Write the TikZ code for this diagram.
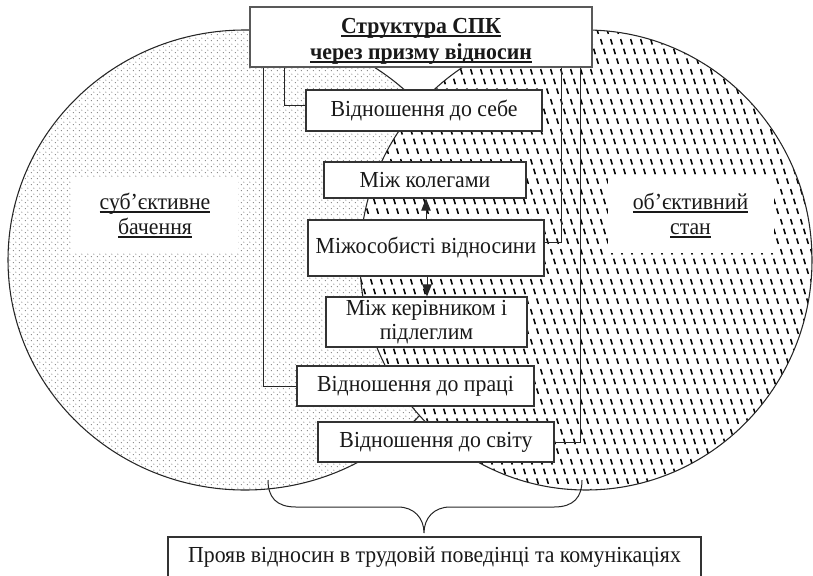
\documentclass[tikz,border=0pt]{standalone}
\usepackage{fontspec}
\setmainfont{Liberation Serif}[FakeStretch=0.95]
\usetikzlibrary{arrows.meta,patterns}

\pgfdeclarepatternformonly{sparsedots}{\pgfqpoint{0pt}{0pt}}{\pgfqpoint{4.5pt}{4.5pt}}{\pgfqpoint{4.5pt}{4.5pt}}{%
  \pgfpathcircle{\pgfqpoint{1.1pt}{1.1pt}}{0.44pt}%
  \pgfpathcircle{\pgfqpoint{3.35pt}{3.35pt}}{0.44pt}%
  \pgfusepath{fill}}

\pgfdeclarepatternformonly{slantdash}{\pgfqpoint{0pt}{0pt}}{\pgfqpoint{7.5pt}{22.5pt}}{\pgfqpoint{7.5pt}{22.5pt}}{%
  \pgfsetlinewidth{1.25pt}%
  \pgfpathmoveto{\pgfqpoint{0.5pt}{20.9pt}}\pgfpathlineto{\pgfqpoint{1.9pt}{16.6pt}}%
  \pgfpathmoveto{\pgfqpoint{3.0pt}{13.4pt}}\pgfpathlineto{\pgfqpoint{4.4pt}{9.1pt}}%
  \pgfpathmoveto{\pgfqpoint{5.5pt}{5.9pt}}\pgfpathlineto{\pgfqpoint{6.9pt}{1.6pt}}%
  \pgfusepath{stroke}}

\newsavebox\ulbox
\newcommand\ulx[1]{\sbox\ulbox{#1}\rlap{\rule[-2.6pt]{\wd\ulbox}{1.3pt}}\usebox\ulbox}

\begin{document}
\begin{tikzpicture}[x=0.75pt,y=-0.75pt,
  txt/.style={font=\fontsize{17.2}{18}\selectfont, text=black!90},
  box/.style={txt, draw=black!80, line width=0.8pt, fill=white, align=center, inner sep=0pt},
  conn/.style={draw=black!85, line width=0.75pt},
  arr/.style={conn, -{Triangle[length=9pt,width=7pt]}},
  circ/.style={draw=black!85, line width=0.8pt},
  lab/.style={txt, fill=white, align=center, inner sep=0pt, minimum width=124.5pt, minimum height=56.25pt, font=\fontsize{17.2}{18.75}\selectfont}]
\useasboundingbox (0,0) rectangle (813,575);

% left circle (dotted)
\fill[white] (245,260) ellipse [x radius=237, y radius=230];
\draw[circ, pattern=sparsedots, pattern color=black!60] (245,260) ellipse [x radius=237, y radius=230];
% right circle (dashes)
\fill[white] (586,260) ellipse [x radius=226, y radius=230];
\draw[circ, pattern=slantdash, pattern color=black] (586,260) ellipse [x radius=226, y radius=230];

% circle labels
\node[lab] (subj) at (155,215.5) {\ulx{суб’єктивне}\\\ulx{бачення}};
\node[lab] (obj) at (690.5,215.5) {\ulx{об’єктивний}\\\ulx{стан}};

% title box and text
\node[box, line width=1.1pt, draw=black!65, minimum width=256.5pt, minimum height=45pt] (title) at (421,37) {};
\node[txt, align=center, inner sep=0pt, font=\fontsize{17.2}{19.5}\selectfont\bfseries] (titletext) at (421,41)
      {\ulx{Структура СПК}\\\ulx{через призму відносин}};

% boxes
\node[box, minimum width=177pt, minimum height=30.75pt] (b1) at (424,110.5) {Відношення до себе};
\node[box, minimum width=151.5pt, minimum height=27pt] (b2) at (425,180) {Між колегами};
\node[box, minimum width=177pt, minimum height=42pt] (b3) at (426,248) {Міжособисті відносини};
\node[box, minimum width=150.75pt, minimum height=37.5pt] (b4) at (426.5,322) {Між керівником і\\підлеглим};
\node[box, minimum width=177.75pt, minimum height=30pt] (b5) at (415.5,386) {Відношення до праці};
\node[box, minimum width=177pt, minimum height=30pt] (b6) at (436,442) {Відношення до світу};
\node[box, minimum width=399.75pt, minimum height=30.75pt] (bottom) at (434.5,557.5)
      {Прояв відносин в трудовій поведінці та комунікаціях};

% connectors
\draw[conn] (title.south -| 284,0) |- (b1.west |- 0,105);
\draw[conn] (title.south -| 263,0) |- (b5.west);
\draw[conn] (title.south -| 561,0) |- (b3.east |- 0,242);
\draw[conn] (title.south -| 580,0) |- (b6.east);
\draw[arr] (b3.north -| 426,0) -- (b2.south -| 426,0);
\draw[arr] (b3.south -| 427,0) -- (b4.north -| 427,0);

% brace
\coordinate (brL) at (268,480);
\coordinate (brR) at (582,480);
\coordinate (brT) at (424,533);
\draw[conn] (brL) .. controls (268,497) and (276,507) .. (296,507) -- (398,507)
  .. controls (414,507) and (424,518) .. (brT)
  .. controls (424,518) and (434,507) .. (450,507) -- (554,507)
  .. controls (574,507) and (582,497) .. (brR);
\end{tikzpicture}
\end{document}
